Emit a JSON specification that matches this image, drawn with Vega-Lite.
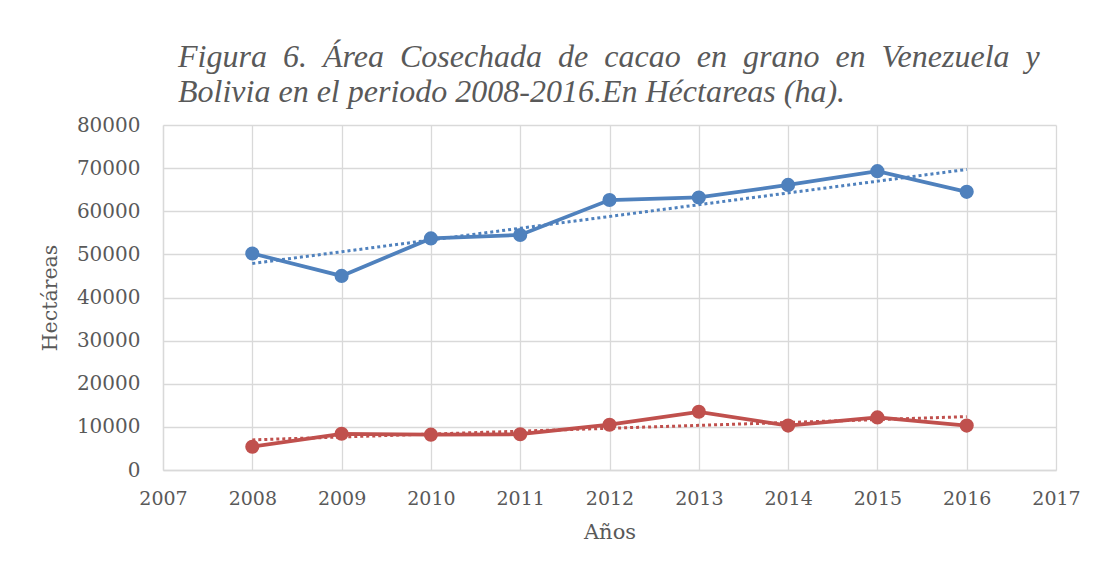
{
  "$schema": "https://vega.github.io/schema/vega-lite/v6.json",
  "width": 893,
  "height": 345,
  "autosize": {"type": "none"},
  "padding": {"left": 163, "top": 125, "right": 40, "bottom": 94},
  "background": "white",
  "title": {
    "text": ["Figura\u00a0 6.\u00a0 Área\u00a0 Cosechada\u00a0 de\u00a0 cacao\u00a0 en\u00a0 grano\u00a0 en\u00a0 Venezuela\u00a0 y", "Bolivia en el periodo 2008-2016.En Héctareas (ha)."],
    "anchor": "start",
    "frame": "group",
    "dx": 15,
    "offset": 6,
    "font": "Liberation Serif",
    "fontStyle": "italic",
    "fontWeight": "normal",
    "fontSize": 32,
    "lineHeight": 35,
    "color": "#595959"
  },
  "data": {
    "values": [
      {"year": 2008, "serie": "Venezuela", "ha": 50200},
      {"year": 2009, "serie": "Venezuela", "ha": 45000},
      {"year": 2010, "serie": "Venezuela", "ha": 53700},
      {"year": 2011, "serie": "Venezuela", "ha": 54500},
      {"year": 2012, "serie": "Venezuela", "ha": 62600},
      {"year": 2013, "serie": "Venezuela", "ha": 63200},
      {"year": 2014, "serie": "Venezuela", "ha": 66100},
      {"year": 2015, "serie": "Venezuela", "ha": 69300},
      {"year": 2016, "serie": "Venezuela", "ha": 64500},
      {"year": 2008, "serie": "Bolivia", "ha": 5400},
      {"year": 2009, "serie": "Bolivia", "ha": 8400},
      {"year": 2010, "serie": "Bolivia", "ha": 8200},
      {"year": 2011, "serie": "Bolivia", "ha": 8300},
      {"year": 2012, "serie": "Bolivia", "ha": 10500},
      {"year": 2013, "serie": "Bolivia", "ha": 13500},
      {"year": 2014, "serie": "Bolivia", "ha": 10300},
      {"year": 2015, "serie": "Bolivia", "ha": 12200},
      {"year": 2016, "serie": "Bolivia", "ha": 10300}
    ]
  },
  "encoding": {
    "x": {
      "field": "year",
      "type": "quantitative",
      "scale": {"domain": [2007, 2017], "nice": false, "zero": false},
      "axis": {
        "title": "Años",
        "values": [2007, 2008, 2009, 2010, 2011, 2012, 2013, 2014, 2015, 2016, 2017],
        "format": "d",
        "labelFont": "DejaVu Serif",
        "labelFontSize": 19,
        "labelColor": "#595959",
        "labelPadding": 19,
        "labelFlush": false,
        "labelOverlap": false,
        "ticks": false,
        "domainColor": "#d9d9d9",
        "domainWidth": 1.5,
        "gridColor": "#d9d9d9",
        "gridWidth": 1.3,
        "titleFont": "DejaVu Serif",
        "titleFontSize": 21,
        "titleFontWeight": "normal",
        "titleColor": "#595959",
        "titlePadding": 13
      }
    },
    "y": {
      "field": "ha",
      "type": "quantitative",
      "scale": {"domain": [0, 80000], "nice": false},
      "axis": {
        "title": "Hectáreas",
        "values": [0, 10000, 20000, 30000, 40000, 50000, 60000, 70000, 80000],
        "format": "d",
        "labelFont": "DejaVu Serif",
        "labelFontSize": 20,
        "labelColor": "#595959",
        "labelPadding": 23,
        "ticks": false,
        "domainColor": "#d9d9d9",
        "domainWidth": 1.3,
        "gridColor": "#d9d9d9",
        "gridWidth": 1.3,
        "titleFont": "DejaVu Serif",
        "titleFontSize": 20.5,
        "titleFontWeight": "normal",
        "titleColor": "#595959",
        "titlePadding": 16
      }
    },
    "color": {
      "field": "serie",
      "type": "nominal",
      "scale": {"domain": ["Venezuela", "Bolivia"], "range": ["#4f81bd", "#c0504d"]},
      "legend": null
    }
  },
  "layer": [
    {
      "transform": [{"regression": "ha", "on": "year", "groupby": ["serie"]}],
      "mark": {"type": "line", "strokeWidth": 3, "strokeDash": [3, 3]}
    },
    {
      "mark": {"type": "line", "strokeWidth": 3.75}
    },
    {
      "mark": {"type": "point", "filled": true, "opacity": 1, "size": 200, "shape": "circle"}
    }
  ],
  "config": {"view": {"stroke": null}}
}
